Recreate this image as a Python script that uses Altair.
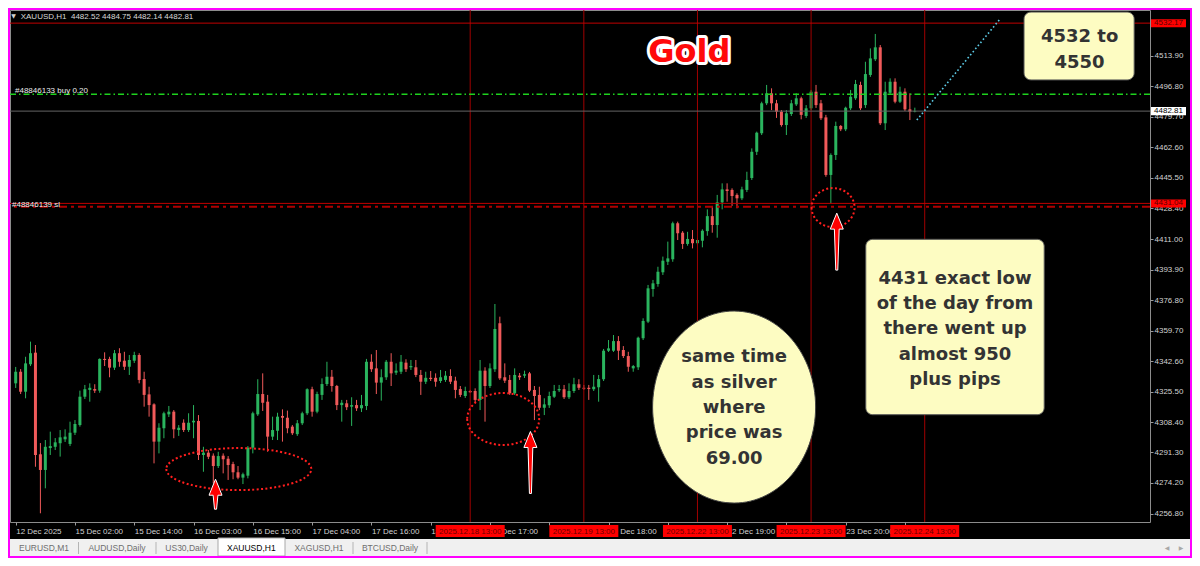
import json
import altair as alt
import pandas as pd

# ---------------- data (XAUUSD H1 candles) ----------------
open_ = [4330.1, 4336.6, 4325.4, 4340.8, 4347.3, 4290.3, 4281.5, 4293.8, 4294.5, 4296.5,
         4298.7, 4296.1, 4302.4, 4306.7, 4322.6, 4326.4, 4326.9, 4326.0, 4343.8, 4343.8,
         4338.9, 4347.0, 4342.8, 4339.4, 4342.8, 4346.0, 4332.5, 4323.9, 4318.3, 4297.4,
         4304.9, 4312.7, 4314.2, 4303.9, 4308.0, 4303.9, 4308.2, 4309.0, 4289.9, 4291.2,
         4289.5, 4283.7, 4289.5, 4287.8, 4284.8, 4280.2, 4277.2, 4278.3, 4294.0, 4312.7,
         4324.1, 4319.8, 4300.2, 4303.5, 4311.8, 4310.8, 4305.8, 4301.6, 4307.7, 4313.3,
         4326.8, 4314.2, 4323.6, 4329.7, 4333.8, 4328.6, 4317.9, 4318.9, 4317.0, 4317.9,
         4316.1, 4317.4, 4342.2, 4338.5, 4330.5, 4333.5, 4342.2, 4336.1, 4336.6, 4341.7,
         4339.1, 4339.1, 4334.8, 4331.0, 4333.2, 4333.2, 4331.4, 4332.0, 4334.2, 4331.6,
         4326.9, 4323.0, 4325.8, 4325.8, 4320.8, 4337.2, 4328.6, 4338.0, 4363.8, 4333.5,
         4332.0, 4324.5, 4334.4, 4334.4, 4335.7, 4326.4, 4323.6, 4316.4, 4317.8, 4322.6,
         4326.2, 4326.8, 4322.3, 4325.8, 4329.6, 4327.6, 4327.6, 4326.8, 4327.9, 4332.4,
         4348.4, 4348.4, 4353.8, 4348.8, 4345.4, 4338.5, 4339.1, 4355.4, 4364.7, 4383.0,
         4385.8, 4392.4, 4398.3, 4399.7, 4419.9, 4414.6, 4408.3, 4411.1, 4408.7, 4410.1,
         4415.5, 4423.9, 4418.9, 4431.6, 4438.9, 4438.6, 4435.8, 4433.9, 4438.6, 4445.3,
         4460.0, 4470.4, 4487.2, 4492.8, 4487.2, 4482.5, 4475.0, 4481.2, 4486.6, 4490.0,
         4480.1, 4484.4, 4493.7, 4487.2, 4479.3, 4447.0, 4458.2, 4474.5, 4472.6, 4484.4,
         4490.0, 4497.5, 4486.2, 4503.1, 4511.9, 4518.6, 4476.0, 4493.1, 4499.3, 4488.1,
         4493.7, 4483.8, 4482.52]
high_ = [4339.3, 4338.1, 4345.0, 4353.5, 4351.6, 4296.6, 4298.3, 4303.0, 4299.4, 4303.9,
         4304.3, 4308.6, 4309.5, 4326.0, 4329.2, 4330.1, 4329.6, 4344.1, 4347.5, 4345.0,
         4348.8, 4349.8, 4347.8, 4346.0, 4347.8, 4347.0, 4336.6, 4328.2, 4318.9, 4307.7,
         4314.2, 4317.4, 4315.1, 4306.7, 4309.9, 4313.3, 4317.9, 4312.3, 4294.5, 4292.7,
         4290.8, 4291.7, 4290.8, 4289.3, 4286.1, 4283.7, 4280.0, 4294.9, 4314.2, 4332.4,
         4335.7, 4323.6, 4311.4, 4313.6, 4315.5, 4314.8, 4306.7, 4309.5, 4314.2, 4327.3,
         4328.2, 4325.4, 4332.9, 4342.2, 4337.6, 4329.2, 4320.8, 4320.8, 4322.3, 4320.8,
         4323.6, 4343.8, 4346.4, 4348.8, 4338.0, 4343.2, 4347.0, 4341.3, 4346.0, 4343.6,
         4343.2, 4343.2, 4337.6, 4336.6, 4337.0, 4335.7, 4337.6, 4337.0, 4338.0, 4333.8,
         4328.6, 4328.2, 4326.4, 4327.3, 4343.2, 4339.1, 4341.3, 4374.6, 4367.5, 4341.3,
         4334.8, 4338.5, 4335.9, 4337.2, 4336.5, 4328.6, 4328.2, 4321.7, 4325.4, 4329.2,
         4329.2, 4329.2, 4330.1, 4333.2, 4332.4, 4329.2, 4329.2, 4334.8, 4334.8, 4349.4,
         4354.4, 4357.2, 4356.6, 4351.0, 4347.8, 4340.4, 4356.3, 4366.6, 4385.3, 4388.1,
         4395.5, 4401.2, 4409.6, 4420.8, 4420.8, 4415.5, 4415.1, 4416.1, 4411.6, 4416.5,
         4427.7, 4429.6, 4435.8, 4442.3, 4442.3, 4439.5, 4436.7, 4440.4, 4448.8, 4461.9,
         4471.3, 4488.1, 4497.5, 4495.6, 4489.1, 4483.4, 4483.4, 4489.1, 4492.8, 4490.9,
         4486.2, 4494.7, 4497.5, 4489.1, 4480.7, 4459.1, 4476.9, 4475.0, 4485.3, 4494.7,
         4500.3, 4499.3, 4510.5, 4518.0, 4526.1, 4519.9, 4499.3, 4501.2, 4501.2, 4496.5,
         4495.6, 4492.8, 4484.75]
low_ = [4327.5, 4324.1, 4321.7, 4339.8, 4283.3, 4257.2, 4271.2, 4289.9, 4292.7, 4289.0,
        4297.2, 4294.9, 4301.1, 4305.8, 4321.3, 4319.8, 4324.7, 4324.8, 4339.8, 4333.5,
        4337.6, 4339.4, 4337.6, 4334.8, 4341.5, 4330.1, 4317.0, 4311.4, 4285.2, 4290.8,
        4299.3, 4311.2, 4299.3, 4300.6, 4302.8, 4302.8, 4299.3, 4287.1, 4280.5, 4287.6,
        4274.0, 4282.6, 4279.6, 4275.9, 4276.3, 4276.3, 4273.6, 4276.8, 4290.8, 4311.8,
        4314.6, 4291.7, 4298.3, 4298.3, 4297.4, 4302.1, 4301.1, 4300.6, 4306.7, 4312.3,
        4311.4, 4313.3, 4320.8, 4328.6, 4325.4, 4315.1, 4308.6, 4315.1, 4306.2, 4314.6,
        4314.0, 4315.1, 4336.5, 4324.1, 4320.4, 4332.0, 4328.6, 4334.8, 4335.3, 4336.5,
        4337.6, 4333.6, 4323.6, 4329.7, 4331.4, 4328.2, 4330.3, 4330.9, 4329.7, 4321.7,
        4322.4, 4321.9, 4324.7, 4319.6, 4315.1, 4308.6, 4327.5, 4336.5, 4332.0, 4330.3,
        4323.6, 4323.6, 4332.0, 4333.1, 4325.2, 4309.5, 4315.1, 4312.3, 4316.3, 4321.9,
        4325.2, 4321.3, 4321.3, 4324.7, 4326.4, 4326.4, 4320.8, 4325.8, 4319.8, 4331.4,
        4347.7, 4347.7, 4343.2, 4344.3, 4336.6, 4336.6, 4337.6, 4354.4, 4363.9, 4378.7,
        4384.3, 4390.9, 4396.5, 4398.3, 4410.5, 4405.5, 4407.3, 4405.8, 4407.7, 4406.4,
        4412.9, 4414.6, 4411.8, 4427.7, 4432.0, 4429.6, 4428.3, 4432.9, 4437.4, 4444.2,
        4458.2, 4469.4, 4486.2, 4483.4, 4479.0, 4474.1, 4469.4, 4480.1, 4485.7, 4478.2,
        4479.0, 4483.4, 4484.6, 4477.8, 4446.0, 4431.0, 4455.4, 4471.6, 4471.6, 4483.4,
        4489.1, 4483.4, 4484.6, 4502.0, 4510.9, 4475.0, 4472.2, 4492.4, 4487.2, 4487.4,
        4482.9, 4477.8, 4482.14]
close_ = [4336.6, 4325.4, 4341.3, 4347.0, 4289.9, 4281.5, 4294.5, 4294.9, 4297.0, 4299.8,
          4300.2, 4302.4, 4307.3, 4322.6, 4326.8, 4327.6, 4326.0, 4343.8, 4343.2, 4338.9,
          4347.0, 4342.2, 4339.4, 4343.2, 4346.0, 4332.0, 4323.6, 4317.9, 4297.4, 4305.2,
          4313.3, 4314.2, 4304.3, 4305.2, 4303.9, 4308.0, 4309.1, 4289.9, 4291.2, 4288.9,
          4283.7, 4289.3, 4287.5, 4284.3, 4280.2, 4277.2, 4279.1, 4294.0, 4313.3, 4324.1,
          4319.2, 4300.2, 4303.9, 4311.4, 4310.8, 4304.9, 4302.1, 4307.7, 4313.3, 4326.8,
          4314.2, 4324.1, 4329.7, 4333.8, 4328.6, 4317.9, 4319.2, 4316.7, 4317.9, 4316.1,
          4317.9, 4342.2, 4338.0, 4330.5, 4333.5, 4342.2, 4335.7, 4337.2, 4342.2, 4338.0,
          4339.8, 4334.8, 4331.0, 4333.2, 4332.5, 4331.0, 4333.5, 4334.4, 4331.0, 4326.4,
          4323.6, 4325.8, 4325.1, 4320.8, 4337.2, 4328.6, 4338.5, 4360.6, 4332.9, 4331.6,
          4324.5, 4334.8, 4333.5, 4335.2, 4326.0, 4323.0, 4316.4, 4318.3, 4323.0, 4325.8,
          4326.9, 4322.3, 4325.8, 4329.6, 4327.6, 4327.1, 4326.9, 4328.2, 4332.5, 4348.4,
          4349.7, 4353.8, 4348.4, 4345.4, 4339.4, 4339.8, 4355.7, 4365.1, 4383.4, 4386.2,
          4392.7, 4398.9, 4400.2, 4419.9, 4414.3, 4408.3, 4411.1, 4408.7, 4410.5, 4415.7,
          4423.9, 4418.9, 4431.6, 4438.9, 4438.0, 4435.2, 4433.9, 4438.9, 4444.2, 4460.0,
          4470.7, 4487.2, 4492.8, 4487.2, 4482.5, 4475.0, 4481.6, 4487.2, 4490.0, 4480.7,
          4484.4, 4493.7, 4486.2, 4478.8, 4447.0, 4458.2, 4474.5, 4472.6, 4484.7, 4490.9,
          4498.0, 4484.4, 4503.6, 4512.4, 4518.6, 4476.0, 4493.7, 4499.3, 4488.1, 4493.7,
          4483.8, 4482.5, 4482.81]

# time-axis labels; those fully covered by the red line labels in the terminal are blank
time_tick_idx = [0, 12, 24, 36, 48, 60, 72, 84, 96, 108, 120, 132, 144, 156, 168, 180]
time_tick_labels = ["12 Dec 2025", "15 Dec 02:00", "15 Dec 14:00", "16 Dec 03:00",
                    "16 Dec 15:00", "17 Dec 04:00", "17 Dec 16:00", "18 Dec 05:00",
                    "18 Dec 17:00", "", "19 Dec 18:00", "",
                    "22 Dec 19:00", "", "23 Dec 20:00", ""]
price_tick_values = [4513.90, 4496.80, 4479.70, 4462.60, 4445.50, 4428.40, 4411.00, 4393.90,
                     4376.80, 4359.70, 4342.60, 4325.50, 4308.40, 4291.30, 4274.20, 4256.80]
vline_idx = [92, 115, 138, 161, 184]
vline_labels = ["2025.12.18 13:00", "2025.12.19 13:00", "2025.12.22 13:00",
                "2025.12.23 13:00", "2025.12.24 13:00"]
tp_level = 4532.17
buy_level = 4492.3
bid_level = 4482.81
sl_level = 4431.04
sl_order_level = 4429.2
trend_idx = [182.4, 199.2]
trend_price = [4477.8, 4534.3]
tabs = ["EURUSD,M1", "AUDUSD,Daily", "US30,Daily", "XAUUSD,H1", "XAGUSD,H1", "BTCUSD,Daily"]

# ---------------- layout / styles ----------------
W, H = 1140, 512
GREEN, RED = "#2ab45e", "#f05a5a"
YELLOW = "#fdfcc2"
FONT = "Liberation Sans"
BOLD = "DejaVu Sans"

x_scale = alt.Scale(domain=[-0.14, 228.59], nice=False, zero=False)
y_scale = alt.Scale(domain=[4252.31, 4539.54], nice=False, zero=False)
label_expr = json.dumps(time_tick_labels) + "[round(datum.value / 12)]"
x_axis = alt.Axis(values=time_tick_idx, labelExpr=label_expr, title=None, grid=False,
                  domain=False, orient="bottom", tickSize=3, tickColor="#9a9a9a",
                  labelColor="#d2d2d2", labelFont=FONT, labelFontSize=8, labelAlign="left",
                  labelPadding=2, labelOverlap=False, labelFlush=False, labelBound=False)
y_axis = alt.Axis(values=price_tick_values, format=".2f", title=None, grid=False,
                  domain=False, orient="right", tickSize=3, tickColor="#9a9a9a",
                  labelColor="#d2d2d2", labelFont=FONT, labelFontSize=8, labelPadding=1,
                  labelOverlap=False, labelFlush=False, labelBound=False,
                  labelBaseline="middle")


def X(f):
    return alt.X(f"{f}:Q", scale=x_scale, axis=x_axis)


def Y(f):
    return alt.Y(f"{f}:Q", scale=y_scale, axis=y_axis)


one = pd.DataFrame({"a": [0]})

N = len(open_)
candles = pd.DataFrame({"idx": list(range(N)), "open": open_, "high": high_,
                        "low": low_, "close": close_})
candles["dir"] = ["up" if c >= o else "down" for o, c in zip(open_, close_)]
ccolor = alt.Color("dir:N", scale=alt.Scale(domain=["up", "down"], range=[GREEN, RED]),
                   legend=None)

layers = []

# candles
layers.append(alt.Chart(candles).mark_rule(strokeWidth=1).encode(
    x=X("idx"), y=Y("low"), y2=alt.Y2("high"), color=ccolor))
layers.append(alt.Chart(candles).mark_bar(size=3).encode(
    x=X("idx"), y=Y("open"), y2=alt.Y2("close"), color=ccolor))

# vertical time lines
vdf = pd.DataFrame({"idx": vline_idx, "label": vline_labels})
layers.append(alt.Chart(vdf).mark_rule(color="#a00000", strokeWidth=1).encode(x=X("idx")))


def hline(level, color, width, dash=None):
    kw = dict(color=color, strokeWidth=width)
    if dash:
        kw["strokeDash"] = dash
    return alt.Chart(pd.DataFrame({"p": [level]})).mark_rule(**kw).encode(y=Y("p"))


layers.append(hline(tp_level, "#c00000", 1))
layers.append(hline(bid_level, "#646464", 1))
layers.append(hline(buy_level, "#1ed21e", 1.6, [6, 3, 1.5, 3]))
layers.append(hline(sl_level, "#c00000", 1))
layers.append(hline(sl_order_level, "#b00000", 2, [8, 4, 3, 4]))

# cyan dotted projection
tdf = pd.DataFrame({"i": trend_idx, "p": trend_price})
layers.append(alt.Chart(tdf).mark_line(color="#5ccbe6", strokeWidth=1.6,
                                       strokeDash=[1.6, 2.4]).encode(x=X("i"), y=Y("p")))


def ellipse_path(ry):
    return f"M -1 0 A 1 {ry:.3f} 0 1 0 1 0 A 1 {ry:.3f} 0 1 0 -1 0 Z"


def arrow_path(length):
    u = length / 2.0
    hw, hl, st, sb = 6.5 / u, 16.0 / u, 2.4 / u, 1.0 / u
    yh = -1 + hl
    return (f"M 0 -1 L {hw:.3f} {yh:.3f} L {st:.3f} {yh:.3f} L {sb:.3f} 1 "
            f"L {-sb:.3f} 1 L {-st:.3f} {yh:.3f} L {-hw:.3f} {yh:.3f} Z")


# red dotted ellipses  (centre index, centre price, width px, height px)
for cx, cy, w, h in [(45.16, 4282.0, 145, 42), (98.68, 4310.1, 72, 52), (165.45, 4428.7, 43, 39)]:
    layers.append(alt.Chart(pd.DataFrame({"x": [cx], "y": [cy]})).mark_point(
        shape=ellipse_path(h / w), size=w * w, filled=False, color="#ff1e1e",
        strokeWidth=2, strokeDash=[2, 2.4], opacity=1).encode(x=X("x"), y=Y("y")))

# red arrows (centre index, centre price, length px)
for cx, cy, ln in [(40.45, 4267.9, 30), (104.19, 4285.7, 62), (166.2, 4409.6, 57)]:
    layers.append(alt.Chart(pd.DataFrame({"x": [cx], "y": [cy]})).mark_point(
        shape=arrow_path(ln), size=ln * ln, filled=True, fill="#ff0000", color="#ff0000",
        stroke="#ffffff", strokeWidth=1, opacity=1).encode(x=X("x"), y=Y("y")))

# yellow ellipse callout
layers.append(alt.Chart(pd.DataFrame({"x": [145.42], "y": [4316.8]})).mark_point(
    shape="M -0.849 0 A 0.849 1 0 1 0 0.849 0 A 0.849 1 0 1 0 -0.849 0 Z", size=192 * 192,
    filled=True, fill=YELLOW, color=YELLOW, stroke="#444444", strokeWidth=1,
    opacity=1).encode(x=X("x"), y=Y("y")))

# rounded yellow boxes
boxes = pd.DataFrame({"x1": [204.1, 172.07], "x2": [226.4, 208.19],
                      "y1": [4538.4, 4410.9], "y2": [4500.3, 4312.5]})
layers.append(alt.Chart(boxes).mark_rect(cornerRadius=7, color=YELLOW, stroke="#555555",
                                         strokeWidth=1).encode(
    x=X("x1"), x2=alt.X2("x2"), y=Y("y1"), y2=alt.Y2("y2")))


def text_block(xs, ys, texts, size=18, color="#333333", **kw):
    df = pd.DataFrame({"x": xs, "y": ys, "t": texts})
    return alt.Chart(df).mark_text(font=BOLD, fontWeight="bold", fontSize=size, color=color,
                                   align="center", baseline="alphabetic", **kw).encode(
        x=X("x"), y=Y("y"), text="t:N")


layers.append(text_block([145.42] * 5, [4341.8, 4327.5, 4313.3, 4299.2, 4284.7],
                         ["same time", "as silver", "where", "price was", "69.00"]))
layers.append(text_block([190.13] * 5, [4386.0, 4372.0, 4358.0, 4343.4, 4329.3],
                         ["4431 exact low", "of the day from", "there went up",
                          "almost 950", "plus pips"]))
layers.append(text_block([215.35] * 2, [4521.8, 4506.8], ["4532 to", "4550"]))

# "Gold" title with white outline
layers.append(text_block([136.35], [4510.4], ["Gold"], size=32, color="#ffffff",
                         stroke="#ffffff", strokeWidth=6, strokeJoin="round"))
layers.append(text_block([136.35], [4510.4], ["Gold"], size=32, color="#ff0a0a"))

# ---------------- terminal chrome ----------------
hdr = (f"XAUUSD,H1\u00a0\u00a0{open_[-1]:.2f} {high_[-1]:.2f} "
       f"{low_[-1]:.2f} {close_[-1]:.2f}")
layers.append(alt.Chart(one).mark_text(font="DejaVu Sans", fontSize=6, color="#d0d0d0",
                                       align="center", baseline="middle").encode(
    x=alt.value(3.5), y=alt.value(6), text=alt.value("\u25bc")))
layers.append(alt.Chart(one).mark_text(font=FONT, fontSize=8, color="#d8d8d8", align="left",
                                       baseline="alphabetic").encode(
    x=alt.value(10.7), y=alt.value(8.5), text=alt.value(hdr)))

for dx, dy, txt in [(5, 82.5, "#48846133 buy 0.20"), (2, 196.5, "#48846139 sl")]:
    layers.append(alt.Chart(one).mark_text(font=FONT, fontSize=8, color="#ececec",
                                           align="left", baseline="alphabetic").encode(
        x=alt.value(dx), y=alt.value(dy), text=alt.value(txt)))

# price labels on the right axis
plab = pd.DataFrame({"p": [tp_level, bid_level, sl_level],
                     "t": [f"{tp_level:.2f}", f"{bid_level:.2f}", f"{sl_level:.2f}"],
                     "bg": ["#ff0000", "#ffffff", "#ff0000"],
                     "fg": ["#5a0000", "#000000", "#5a0000"]})
layers.append(alt.Chart(plab).mark_point(
    shape="M -1 -0.229 L 1 -0.229 L 1 0.229 L -1 0.229 Z", size=35 * 35, filled=True,
    opacity=1, strokeWidth=0).encode(
    x=alt.value(1158.5), y=Y("p"), color=alt.Color("bg:N", scale=None)))
layers.append(alt.Chart(plab).mark_text(font=FONT, fontSize=8, align="center",
                                        baseline="middle").encode(
    x=alt.value(1158.5), y=Y("p"), text="t:N", color=alt.Color("fg:N", scale=None)))

# time labels of vertical lines
layers.append(alt.Chart(vdf).mark_point(
    shape="M -1 -0.174 L 1 -0.174 L 1 0.174 L -1 0.174 Z", size=69 * 69, filled=True,
    color="#ff0000", opacity=1, strokeWidth=0).encode(x=X("idx"), y=alt.value(521)))
layers.append(alt.Chart(vdf).mark_text(font=FONT, fontSize=8, color="#6a0000",
                                       align="center", baseline="middle").encode(
    x=X("idx"), y=alt.value(521.5), text="label:N"))

# tab bar
layers.append(alt.Chart(one).mark_rect(color="#f0f0f0").encode(
    x=alt.value(0), x2=alt.value(1180), y=alt.value(529), y2=alt.value(546)))
layers.append(alt.Chart(one).mark_rect(color="#ffffff", stroke="#a8a8a8", strokeWidth=1).encode(
    x=alt.value(208), x2=alt.value(275), y=alt.value(528), y2=alt.value(546)))
for sx in [68.5, 146, 343, 417]:
    layers.append(alt.Chart(one).mark_rule(color="#b4b4b4", strokeWidth=1).encode(
        x=alt.value(sx), y=alt.value(532), y2=alt.value(544)))
for tx, name in zip([34, 107, 176.6, 241.3, 309, 380], tabs):
    layers.append(alt.Chart(one).mark_text(
        font=FONT, fontSize=8.5, align="center", baseline="middle",
        color="#000000" if name == "XAUUSD,H1" else "#6e6e6e").encode(
        x=alt.value(tx), y=alt.value(538), text=alt.value(name)))
for tx, arrow in [(1157, "\u25c0"), (1171, "\u25b6")]:
    layers.append(alt.Chart(one).mark_text(font="DejaVu Sans", fontSize=6, color="#a8a8a8",
                                           align="center", baseline="middle").encode(
        x=alt.value(tx), y=alt.value(538), text=alt.value(arrow)))

# magenta frame
layers.append(alt.Chart(one).mark_rect(fillOpacity=0, stroke="#ff00ff", strokeWidth=2).encode(
    x=alt.value(-1), x2=alt.value(1181), y=alt.value(-1), y2=alt.value(547)))

chart = alt.layer(*layers).properties(
    width=W, height=H,
    padding={"left": 2, "top": 2, "right": 42, "bottom": 36},
    autosize=alt.AutoSizeParams(type="none"),
).configure(background="#000000").configure_view(stroke="#8c8c8c", strokeWidth=1)

chart.save("out.html", embed_options={"renderer": "svg", "actions": False})
